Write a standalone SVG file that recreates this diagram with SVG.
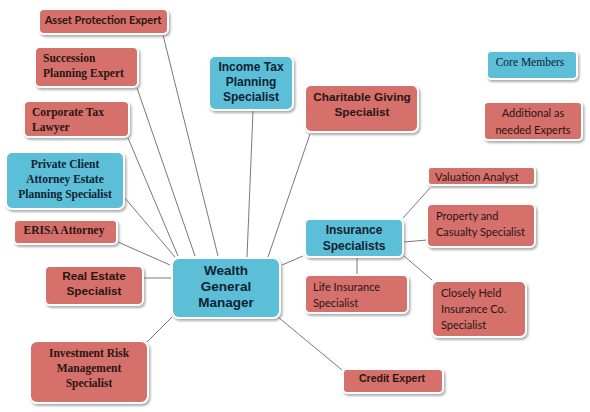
<svg xmlns="http://www.w3.org/2000/svg" width="590" height="412" viewBox="0 0 590 412">
<defs>
<filter id="sh" x="-10%" y="-10%" width="120%" height="130%"><feDropShadow dx="1.5" dy="2" stdDeviation="1" flood-color="#777" flood-opacity="0.6"/></filter>
</defs>
<style>
.r{fill:#d56f6b;stroke:#fff;stroke-width:2;filter:url(#sh)}
.b{fill:#5bbfd7;stroke:#fff;stroke-width:2;filter:url(#sh)}
.c{stroke:#555;stroke-width:0.8;fill:none}
text{fill:#2a1515}
.bl text{fill:#0f2233}
.s{font-family:"Liberation Sans",Arial,sans-serif;font-weight:bold}
.t{font-family:"Liberation Serif","Times New Roman",serif;font-weight:bold;font-size:11.5px}
.tr{font-family:"Liberation Serif","Times New Roman",serif;font-size:11.5px}
.k{font-family:Lato,"Open Sans",sans-serif;font-size:11px}
.m{text-anchor:middle}
</style>
<rect width="590" height="412" fill="#fff"/>
<g id="connectors" class="c">
<line x1="163" y1="35" x2="218" y2="256"/>
<line x1="137" y1="88" x2="195" y2="256"/>
<line x1="128" y1="138" x2="178" y2="256"/>
<line x1="253" y1="111" x2="247" y2="257"/>
<line x1="310" y1="134" x2="268" y2="257"/>
<line x1="124" y1="197" x2="175" y2="257"/>
<line x1="118" y1="242" x2="170" y2="265"/>
<line x1="144" y1="278" x2="171" y2="278"/>
<line x1="147" y1="342" x2="172" y2="317"/>
<line x1="303" y1="256" x2="282" y2="265"/>
<line x1="278" y1="317" x2="342" y2="370"/>
<line x1="403" y1="218" x2="430" y2="188"/>
<line x1="404" y1="242" x2="427" y2="240"/>
<line x1="404" y1="256" x2="432" y2="280"/>
<line x1="357" y1="258" x2="357" y2="275"/>
</g>
<g id="asset-protection"><rect class="r" x="39" y="9" width="129" height="25" rx="5"/><text class="k m" x="103" y="24" font-weight="bold">Asset Protection Expert</text></g>
<g id="succession"><rect class="r" x="35" y="47" width="103" height="40" rx="5"/><text class="t" x="43" y="62">Succession</text><text class="t" x="43" y="77">Planning Expert</text></g>
<g id="corporate-tax"><rect class="r" x="24" y="101" width="105" height="36" rx="5"/><text class="t" x="32" y="116">Corporate Tax</text><text class="t" x="32" y="131">Lawyer</text></g>
<g id="income-tax" class="bl"><rect class="b" x="209" y="56" width="84" height="54" rx="6"/><text class="s m" font-size="12" x="251" y="71">Income Tax</text><text class="s m" font-size="12" x="251" y="86">Planning</text><text class="s m" font-size="12" x="251" y="101">Specialist</text></g>
<g id="charitable"><rect class="r" x="305" y="85" width="113" height="47" rx="6"/><text class="s m" font-size="11.8" x="362" y="101">Charitable Giving</text><text class="s m" font-size="11.8" x="362" y="116">Specialist</text></g>
<g id="core-members" class="bl"><rect class="b" x="487" y="51" width="90" height="28" rx="4"/><text class="tr m" x="530" y="66">Core Members</text></g>
<g id="additional"><rect class="r" x="484" y="102" width="98" height="38" rx="4"/><text class="k m" x="533" y="117">Additional as</text><text class="k m" x="533" y="134">needed Experts</text></g>
<g id="private-client" class="bl"><rect class="b" x="6" y="152" width="118" height="57" rx="6"/><text class="t m" x="65" y="168">Private Client</text><text class="t m" x="65" y="183">Attorney Estate</text><text class="t m" x="65" y="198">Planning Specialist</text></g>
<g id="erisa"><rect class="r" x="14" y="220" width="103" height="24" rx="4"/><text class="t m" x="64" y="234">ERISA Attorney</text></g>
<g id="real-estate"><rect class="r" x="45" y="266" width="98" height="39" rx="5"/><text class="s m" font-size="11.8" x="94" y="280">Real Estate</text><text class="s m" font-size="11.8" x="94" y="295">Specialist</text></g>
<g id="wealth-manager" class="bl"><rect class="b" x="172" y="258" width="108" height="60" rx="7"/><text class="s m" font-size="13.5" x="226" y="275">Wealth</text><text class="s m" font-size="13.5" x="226" y="291">General</text><text class="s m" font-size="13.5" x="226" y="307">Manager</text></g>
<g id="investment-risk"><rect class="r" x="30" y="341" width="118" height="62" rx="7"/><text class="t m" x="89" y="357">Investment Risk</text><text class="t m" x="89" y="372">Management</text><text class="t m" x="89" y="387">Specialist</text></g>
<g id="valuation"><rect class="r" x="428" y="167" width="107" height="18" rx="3"/><text class="k" x="435" y="181">Valuation Analyst</text></g>
<g id="property"><rect class="r" x="427" y="204" width="108" height="43" rx="5"/><text class="k" x="436" y="220">Property and</text><text class="k" x="436" y="236">Casualty Specialist</text></g>
<g id="insurance" class="bl"><rect class="b" x="305" y="219" width="98" height="38" rx="5"/><text class="s m" font-size="12" x="354" y="234">Insurance</text><text class="s m" font-size="12" x="354" y="250">Specialists</text></g>
<g id="life-insurance"><rect class="r" x="305" y="275" width="103" height="38" rx="5"/><text class="k" x="313" y="291">Life Insurance</text><text class="k" x="313" y="307">Specialist</text></g>
<g id="closely-held"><rect class="r" x="432" y="281" width="94" height="56" rx="6"/><text class="k" x="441" y="297">Closely Held</text><text class="k" x="441" y="313">Insurance Co.</text><text class="k" x="441" y="329">Specialist</text></g>
<g id="credit"><rect class="r" x="343" y="369" width="100" height="24" rx="4"/><text class="s m" font-size="10.5" x="392" y="382">Credit Expert</text></g>
</svg>
